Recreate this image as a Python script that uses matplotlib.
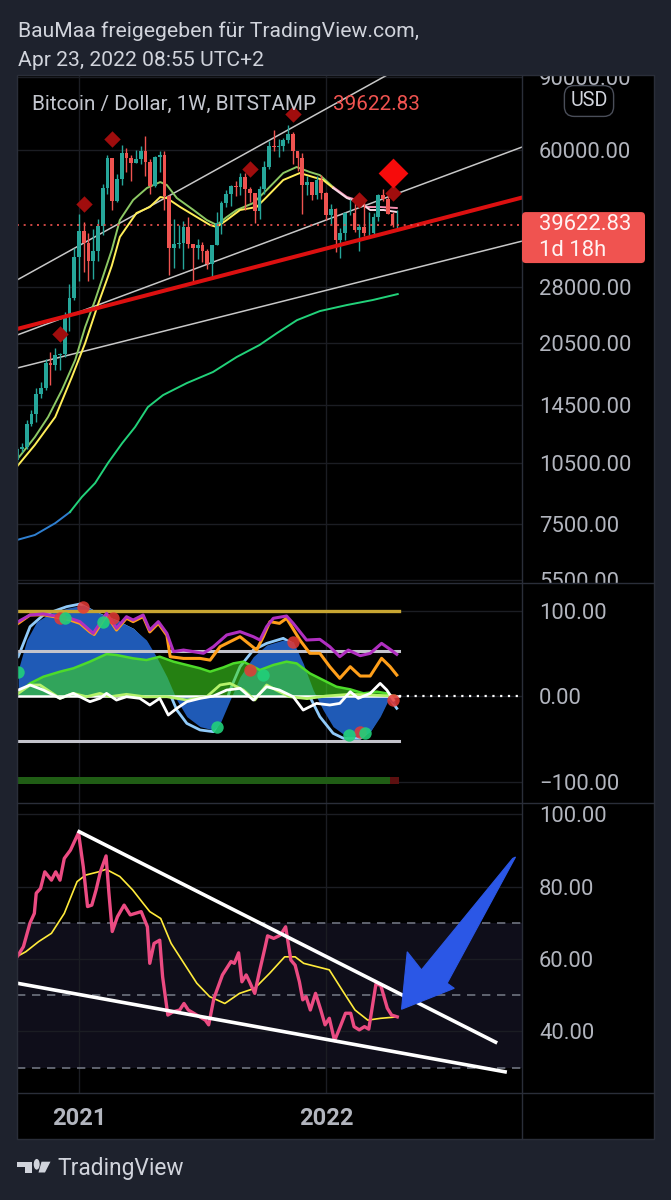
import numpy as np
import matplotlib
matplotlib.use("Agg")
import matplotlib.pyplot as plt
from matplotlib.patches import Rectangle, FancyBboxPatch, Polygon, Circle
from matplotlib.lines import Line2D
from matplotlib.ticker import NullLocator, NullFormatter
from matplotlib.transforms import IdentityTransform

plt.rcParams['font.family'] = ['Roboto', 'DejaVu Sans']

W, H = 671, 1200

# ---- weekly candles BTC/USD (Bitstamp), week 0 = 5 Oct 2020 ----
close = [11380, 11500, 13100, 13800, 15480, 15960, 18400, 18180, 19150, 19270,
         23850, 26270, 33000, 38150, 35800, 32270, 34300, 39300, 48600, 57400,
         45200, 51000, 59000, 57400, 55800, 57000, 59800, 56200, 49000, 57800,
         58200, 46400, 34800, 35600, 35800, 39000, 35500, 34700, 35300, 34250,
         31800, 35400, 39900, 44600, 47000, 49000, 48800, 51700, 48300, 47300,
         42800, 48200, 54700, 61500, 60900, 61300, 63300, 65500, 59700, 57300,
         49400, 50100, 46700, 50800, 47300, 41800, 43100, 36300, 37900, 42200,
         42200, 38400, 39100, 37800, 37800, 41300, 46800, 45800, 42100, 39500,
         39622.83]
high = [11500, 11730, 13350, 14100, 15970, 16480, 18800, 19480, 19900, 19400,
        24300, 28400, 34800, 41950, 40100, 37800, 38600, 40900, 49700, 58300,
        57500, 52600, 61700, 60600, 58400, 60100, 61200, 64900, 57000, 58000,
        59500, 59600, 46600, 40800, 39500, 40400, 41300, 35500, 36600, 35900,
        34600, 35400, 42400, 45300, 48100, 49300, 50500, 52900, 52900, 48800,
        47300, 49200, 56500, 62900, 67000, 63700, 64300, 69000, 66300, 59400,
        59100, 51900, 50100, 51800, 52100, 47500, 44400, 43500, 38900, 42600,
        45800, 44700, 39800, 45400, 42600, 42300, 47000, 48200, 47500, 42400,
        42900]
low = [10550, 11200, 11400, 12950, 13250, 15100, 15800, 16200, 17600, 17600,
       19000, 21900, 26000, 29000, 30400, 28900, 29200, 32300, 37400, 47000,
       43000, 45000, 49300, 53200, 50400, 55800, 55500, 52000, 47000, 48800,
       53000, 42900, 30000, 31200, 34800, 31000, 34800, 28800, 32700, 32100,
       31000, 29300, 35300, 37500, 43700, 43900, 46400, 46600, 43000, 44800,
       40000, 40800, 46900, 53900, 59500, 57800, 59500, 62300, 55600, 53500,
       42000, 46700, 45500, 45600, 45700, 40600, 39700, 34000, 32900, 36300,
       41700, 38000, 34300, 37200, 37200, 37600, 40500, 45200, 42000, 39200,
       38500]
first_open = 10670
year_weeks = [13, 65]
year_labels = ['2021', '2022']

# moving averages (week, price)
fast_x = [-0.1, 3.7, 6.5, 9.4, 12.2, 14.3, 16.4, 18.5, 19.9, 21.6, 24.4, 27.3, 30.1, 31.5, 33.6, 37.1,
          39.9, 42.0, 44.1, 46.2, 49.7, 52.5, 56.0, 58.8, 61.6, 63.7, 66.5, 69.4, 71.5, 73.6, 76.4, 79.9]
fast_p = [10700, 12150, 13590, 15790, 18660, 22410, 26040, 30770, 34400, 40640, 45420, 48560, 50200,
          49370, 45920, 42970, 40640, 39530, 41320, 42970, 44670, 48020, 52780, 54570, 53070, 52180,
          48830, 46180, 45420, 43690, 43690, 43450]
slow_x = [-0.1, 3.7, 8.0, 11.5, 14.3, 17.1, 18.8, 19.9, 21.6, 25.1, 27.9, 30.1, 31.5, 34.3, 37.8, 40.6,
          42.0, 44.1, 46.9, 50.4, 52.5, 56.0, 59.5, 62.3, 64.4, 66.5, 69.4, 72.2, 74.3, 77.1, 79.9]
slow_p = [10300, 11630, 13590, 16970, 20500, 25610, 29000, 31500, 36980, 42250, 43690, 46180, 45920,
          43690, 41320, 39530, 39090, 40640, 42970, 43690, 46180, 50770, 52780, 51620, 50770, 48560,
          45920, 44670, 42970, 42970, 42490]
ma_turn = 66.5
long_x = [-0.1, 3.7, 8.0, 11.1, 13.6, 16.4, 19.1, 22.1, 24.8, 27.5, 30.7, 35.7, 41.2, 46.2, 51.0,
          54.7, 58.9, 63.7, 69.4, 74.8, 80.1]
long_p = [6855, 7050, 7530, 8010, 8710, 9410, 10520, 11750, 12850, 14360, 15350, 16410, 17450,
          18970, 20280, 21680, 23290, 24490, 25330, 26040, 26920]
long_turn = 11.1

# drawn trend lines (week, price)
chan_upper_x, chan_upper_p = [-0.05, 106.3], [29110, 138000]
chan_mid_x, chan_mid_p = [-0.05, 106.3], [21430, 61000]
chan_low_x, chan_low_p = [-0.05, 106.3], [17840, 36150]
support_x, support_p = [-0.05, 106.3], [22170, 46060]

# signal diamonds
sig_x = [9, 14, 20, 49, 58, 72, 79]
sig_p = [21600, 44400, 63800, 54000, 73300, 45400, 47200]
big_sig_x, big_sig_p = [79], [52700]

price_ticks = [5500, 7500, 10500, 14500, 20500, 28000, 60000, 90000]

# ---- oscillator pane ----
purple_x = [0.2, 2.7, 5.5, 7.6, 11.1, 13.2, 16.0, 18.8, 20.9, 23.0, 24.4, 26.5, 27.9, 29.7, 31.5, 32.9,
            35.0, 37.1, 39.2, 41.3, 44.1, 46.9, 49.7, 51.1, 52.5, 53.9, 56.7, 58.1, 60.9, 63.7, 65.8,
            67.9, 69.7, 72.2, 74.3, 76.7, 78.5, 79.9]
purple_v = [87, 94.8, 96, 94, 90.9, 87, 73.3, 96.7, 79.2, 92.8, 88.9, 94.8, 77.2, 87, 73.3, 51.9,
            53.8, 51.9, 50, 57.7, 71.4, 75.3, 69.4, 65.5, 81.1, 90.9, 93.6, 85, 65.5, 66.3, 57.7,
            46, 53.8, 47.2, 49.9, 61.6, 54.6, 48.8]
orange_x = [0.2, 2.7, 5.5, 7.6, 11.1, 13.2, 15.3, 16.2, 18.8, 20.9, 23.0, 24.4, 26.5, 27.9, 29.7, 31.5,
            32.2, 35.0, 38.5, 40.6, 42.7, 46.9, 50.4, 51.8, 53.2, 55.2, 56.7, 59.5, 61.6, 63.7, 65.8,
            67.9, 70.1, 72.2, 74.3, 76.7, 78.5, 79.9]
orange_v = [85, 94.8, 95, 93, 89, 85, 75, 72, 94.8, 77.2, 91, 87, 93, 75, 85, 71,
            46, 44, 44, 42, 57.7, 69.4, 53.8, 69.4, 87, 85, 90.9, 65.5, 50, 50, 34.3,
            20.7, 34.3, 23.4, 23.4, 44.1, 34.3, 24.6]
wave_x = [0.2, 2.0, 4.1, 6.9, 10.4, 13.9, 17.4, 20.9, 24.4, 27.2, 29.3, 31.5, 33.6, 35.7, 38.5, 41.3,
          42.7, 44.8, 46.9, 49.7, 52.5, 56.0, 58.1, 60.2, 62.3, 64.4, 66.5, 69.4, 72.2, 74.3, 76.4,
          78.1, 79.5]
wave_v = [30.4, 65.5, 87, 96.7, 102.6, 106.5, 96.7, 88.9, 79.2, 65.5, 46, 22.6, -4.7, -24.1, -35.8,
          -39.7, -32, -4.7, 22.6, 46, 59.7, 65.5, 63.6, 38.2, 7, -16.4, -35.8, -47.5, -47.5, -41.7,
          -24.1, -4.7, -10.5]
fastwave_x = [0.2, 2.7, 5.5, 10.4, 13.2, 16.7, 20.9, 24.4, 27.2, 29.3, 31.5, 33.6, 35.7, 38.5, 41.3,
              42.7, 44.8, 46.9, 49.7, 52.5, 56.0, 57.8, 59.5, 61.6, 63.7, 66.5, 68.7, 72.2, 74.3,
              76.4, 78.1, 79.9]
fastwave_v = [46, 81.1, 94.8, 104.5, 107.6, 96.7, 87, 77.2, 61.6, 38.2, 10.9, -16.4, -32, -39.7,
              -41.7, -28, 7, 34.3, 53.8, 61.6, 67.5, 61.6, 34.3, -0.8, -24.1, -43.6, -49.5, -49.5,
              -39.7, -20.3, -0.8, -14.4]
mf_x = [0.2, 2.7, 5.5, 9.0, 11.8, 15.3, 18.8, 20.9, 24.4, 27.2, 30.0, 32.9, 35.7, 38.5, 40.6, 43.4,
        45.5, 47.6, 49.0, 51.1, 53.9, 56.7, 58.8, 61.6, 64.4, 67.2, 70.1, 72.9, 75.7, 77.8, 79.2]
mf_v = [3.1, 14.8, 22.6, 28.5, 32.4, 40.2, 49.1, 48, 44.1, 42.1, 46, 40.2, 36.3, 32.4, 28.5, 33.5,
        38.2, 40.2, 36.3, 30.4, 36.3, 40.2, 38.2, 26.5, 18.7, 10.9, 7.8, 3.1, 5.1, 3.1, -0.8]
lime_x = [0.2, 2.7, 4.8, 9.0, 11.8, 14.6, 17.4, 19.5, 23.0, 27.0, 31.5, 35.7, 39.9, 42.7, 44.8, 47.6,
          50.0, 52.5, 54.5, 57.4, 61.0, 65.0, 70.0, 75.0, 79.5]
lime_v = [3.1, 12.9, 12.9, -2.7, 3.1, -0.8, 3.1, -0.8, 2, -1, -0.8, -4.7, -0.8, 12.9, 14.8, 7,
          -4.7, 12.9, 7, -0.8, -3, 0, 2, 1, 0]
white_x = [0.2, 2.7, 5.5, 9.0, 11.8, 15.3, 17.4, 18.8, 20.9, 23.0, 25.8, 27.9, 30.0, 31.8, 33.6, 35.7,
           38.5, 41.3, 44.1, 46.9, 49.7, 52.5, 55.2, 58.1, 60.2, 63.0, 65.8, 67.9, 70.1, 71.8, 74.3,
           76.4, 77.8, 79.2]
white_v = [7, 12.9, 7, -2.7, 3.1, -6.6, -2.7, 3.1, -4.7, -0.8, -2.7, -10.5, -2.7, -22.2, -14.4, -6.6,
           -2.7, 0, 7, 9, -4.7, 10.9, 7, -0.8, -16.4, -8.6, -10.5, -8.6, 5.1, -2.7, 3.1,
           14.8, 7, -4.7]
red_dot_x = [9.0, 13.9, 20.2, 49.0, 58.1, 72.2, 79.2]
red_dot_v = [90.9, 104.5, 90.9, 30.4, 63.6, -41.7, -4.7]
green_dot_x = [0.2, 10.0, 18.1, 42.0, 51.8, 69.9, 73.2]
green_dot_v = [28.5, 90.9, 87, -36.6, 24.6, -45.6, -42.9]
osc_top, osc_ob, osc_os = 100, 53, -53
osc_bar_green = (-0.5, 79.0)
osc_bar_red = (78.5, 1.9)
osc_bar_v = (-103.3, 9.0)
osc_ticks = [100, 0, -100]

# ---- RSI pane ----
rsi_x = [-0.03, 1.3, 2.7, 3.6, 4.0, 4.9, 5.8, 7.2, 8.1, 9.0, 9.9, 11.2, 12.9, 13.9, 14.8, 15.7,
         16.6, 17.5, 18.7, 19.3, 20.0, 21.1, 22.5, 23.8, 26.1, 27.4, 27.9, 28.8, 30.0, 30.6, 31.7,
         32.8, 34.2, 35.1, 36.0, 37.8, 39.6, 40.3, 41.4, 43.2, 45.0, 45.7, 46.6, 47.3, 48.2, 48.9,
         50.0, 50.9, 52.2, 52.7, 54.0, 55.4, 56.5, 57.6, 58.5, 59.4, 60.1, 60.8, 61.7, 62.8, 63.9,
         64.8, 65.7, 66.8, 68.0, 69.1, 70.2, 70.9, 72.0, 73.1, 74.0, 75.5, 76.5, 77.9, 78.8, 80.0]
rsi_v = [60.6, 63.4, 70.0, 72.6, 78.2, 79.5, 84.1, 81.8, 84.1, 81.8, 87.8, 90.1, 94.9, 85.5, 74.5,
         74.9, 79.1, 84.1, 88.5, 78.2, 67.6, 71.7, 74.9, 72.2, 73.1, 68.9, 58.8, 64.3, 65.2, 55.1,
         44.5, 45.4, 45.9, 47.7, 45.9, 44.5, 43.1, 41.8, 49.1, 55.6, 59.3, 58.8, 61.7, 53.7, 55.6,
         53.7, 50.5, 56.0, 63.4, 66.4, 65.7, 66.6, 68.9, 59.7, 58.3, 53.7, 48.7, 49.6, 45.9, 50.5,
         45.9, 41.8, 43.6, 37.4, 41.3, 45.0, 45.0, 41.3, 40.4, 41.3, 40.6, 53.0, 52.8, 46.4, 44.5,
         44.0]
rsi_ma_x = [-0.03, 1.8, 4.5, 7.2, 9.9, 12.6, 14.4, 17.1, 18.7, 21.6, 24.3, 26.5, 27.9, 30.2, 32.4,
            35.1, 37.8, 40.5, 43.7, 46.8, 50.0, 53.1, 56.3, 58.5, 60.3, 63.0, 65.7, 68.4, 71.1, 73.8,
            76.5, 80.0]
rsi_ma_v = [60.7, 62.0, 64.8, 67.1, 72.6, 81.4, 83.2, 84.1, 84.8, 82.8, 79.1, 75.4, 73.1, 71.2, 64.3,
            58.8, 53.3, 49.6, 47.7, 50.5, 51.9, 56.0, 60.6, 60.6, 58.8, 57.9, 57.0, 51.4, 45.9, 43.1,
            43.6, 44.0]
wedge_top_x, wedge_top_v = [13.04, 100.7], [95.2, 37.0]
wedge_bot_x, wedge_bot_v = [-0.03, 102.7], [53.3, 28.8]
arrow_x = [104.9, 90.5, 92.0, 80.9, 82.1, 85.1, 104.3]
arrow_v = [88.2, 53.3, 51.9, 46.1, 62.0, 57.0, 87.8]
rsi_levels = [70, 50, 30]
rsi_ticks = [100, 80, 60, 40]

XLIM = (-0.05, 106.26)
AX_TXT = '#b2b5be'
GRID = '#1b1d23'
SEP = '#2a2e39'
TICK_FS = 15.8


def frame(x0, y0, x1, y1):
    return [x0 / W, 1 - y1 / H, (x1 - x0) / W, (y1 - y0) / H]


def clip_right(ax, y0, y1):
    r = Rectangle((522 / W, 1 - y1 / H), 132 / W, (y1 - y0) / H, transform=fig.transFigure)
    for lbl in ax.get_yticklabels():
        lbl.set_clip_path(r)


def style_pane(ax):
    ax.set_facecolor('black')
    for s in ax.spines.values():
        s.set_visible(False)
    ax.set_xlim(*XLIM)
    ax.set_xticks(year_weeks)
    ax.tick_params(axis='x', length=0, labelbottom=False)
    ax.tick_params(axis='y', left=False, labelleft=False, right=True, labelright=True,
                   length=0, pad=12.2, labelsize=TICK_FS, labelcolor=AX_TXT)
    ax.grid(True, color=GRID, lw=1)


def two_color(ax, xs, ys, turn, c1, c2, lw):
    xs, ys = np.array(xs), np.array(ys)
    ax.plot(xs[xs <= turn], ys[xs <= turn], color=c1, lw=lw, solid_joinstyle='round')
    ax.plot(xs[xs >= turn], ys[xs >= turn], color=c2, lw=lw, solid_joinstyle='round')


fig = plt.figure(figsize=(W / 100, H / 100), dpi=100, facecolor='#1e222d')
fig.add_artist(Rectangle((17 / W, 1 - 1139 / H), 637 / W, 1064 / H, transform=fig.transFigure,
                         fc='black', ec='none', zorder=-1))

# ---------------- price pane ----------------
ax_p = fig.add_axes(frame(17, 75, 522, 583))
style_pane(ax_p)
ax_p.set_yscale('log')
ax_p.set_ylim(5398, 91040)
ax_p.yaxis.set_minor_locator(NullLocator())
ax_p.yaxis.set_minor_formatter(NullFormatter())
ax_p.set_yticks(price_ticks)
ax_p.set_yticklabels([f'{t:.2f}' for t in price_ticks])
clip_right(ax_p, 75, 583)

weeks = np.arange(len(close))
c = np.array(close, dtype=float)
o = np.array([first_open] + close[:-1], dtype=float)
col = np.where(c >= o, '#26a69a', '#ef5350')

ax_p.plot(chan_upper_x, chan_upper_p, color='#c8c8c8', lw=1.1, zorder=2)
ax_p.plot(chan_mid_x, chan_mid_p, color='#c8c8c8', lw=1.1, zorder=2)
ax_p.plot(chan_low_x, chan_low_p, color='#c8c8c8', lw=1.1, zorder=2)
two_color(ax_p, long_x, long_p, long_turn, '#2f7fd0', '#22d27a', 1.4)

ax_p.vlines(weeks, low, high, colors=col, lw=1.0, zorder=3)
ax_p.bar(weeks, c - o, bottom=o, width=0.75, color=col, linewidth=0, zorder=3)

two_color(ax_p, fast_x, fast_p, ma_turn, '#8cc864', '#f48fb1', 1.4)
two_color(ax_p, slow_x, slow_p, ma_turn, '#ffee58', '#f8d8e4', 1.4)
ax_p.plot(support_x, support_p, color='#dc1010', lw=2.9, zorder=4)
ax_p.axhline(close[-1], color='#f05350', lw=1.2, ls=(0, (1.2, 2.8)), zorder=4)
ax_p.scatter(sig_x, sig_p, marker='D', s=70, color='#a00d0d', lw=0, zorder=5)
ax_p.scatter(big_sig_x, big_sig_p, marker='D', s=230, color='#f70b0b', lw=0, zorder=5)

# ---------------- oscillator pane ----------------
ax_i = fig.add_axes(frame(17, 583, 522, 803))
style_pane(ax_i)
ax_i.set_ylim(-125.1, 132.2)
ax_i.set_yticks(osc_ticks)
ax_i.set_yticklabels(['100.00', '0.00', '\u2212100.00'])
clip_right(ax_i, 583, 803)

ax_i.plot(fastwave_x, fastwave_v, color='#90caf9', lw=2.0, zorder=2)
ax_i.fill_between(wave_x, wave_v, 0, color='#1f5ab6', lw=0, zorder=2.2)
ax_i.fill_between(mf_x, mf_v, 0, color='#3ed71f', alpha=0.6, lw=0, zorder=2.4)
ax_i.plot(mf_x, mf_v, color='#4ddb2a', lw=1.8, zorder=2.5)
ax_i.plot([-0.5, 80.4], [osc_top, osc_top], color='#c8a632', lw=2.4, zorder=2.6)
ax_i.plot([-0.5, 80.4], [osc_ob, osc_ob], color='#c4c4cc', lw=2.2, zorder=2.6)
ax_i.plot([-0.5, 80.4], [osc_os, osc_os], color='#c4c4cc', lw=2.2, zorder=2.6)
ax_i.plot([-0.5, 80.4], [0, 0], color='white', lw=1.8, zorder=2.6)
ax_i.plot([80.4, XLIM[1]], [0, 0], color='white', lw=1.6, ls=(0, (1, 2.5)), zorder=2.6)
ax_i.plot(lime_x, lime_v, color='#b5f26b', lw=2.0, zorder=2.7)
ax_i.plot(orange_x, orange_v, color='#ff9f1a', lw=2.2, zorder=2.8)
ax_i.plot(purple_x, purple_v, color='#b02fc0', lw=2.2, zorder=2.9)
ax_i.plot(white_x, white_v, color='white', lw=2.0, zorder=3)
ax_i.broken_barh([osc_bar_green], osc_bar_v, facecolors='#205d15', zorder=3)
ax_i.broken_barh([osc_bar_red], osc_bar_v, facecolors='#5c1010', zorder=3)
ax_i.scatter(red_dot_x, red_dot_v, s=80, color='#e53935', alpha=0.85, lw=0, zorder=4)
ax_i.scatter(green_dot_x, green_dot_v, s=80, color='#21d07a', alpha=0.9, lw=0, zorder=4)

# ---------------- RSI pane ----------------
ax_r = fig.add_axes(frame(17, 803, 522, 1093))
style_pane(ax_r)
ax_r.set_ylim(22.95, 103.13)
ax_r.set_yticks(rsi_ticks)
ax_r.set_yticklabels([f'{t:.2f}' for t in rsi_ticks])
clip_right(ax_r, 803, 1093)
ax_r.axhspan(rsi_levels[-1], rsi_levels[0], color='#0f0e1a', lw=0, zorder=0.5)
for lv in rsi_levels:
    ax_r.axhline(lv, color='#6f7380', lw=1.2, ls=(0, (5, 4)), zorder=1.6)
ax_r.plot(rsi_ma_x, rsi_ma_v, color='#ffeb3b', lw=1.2, zorder=3)
ax_r.plot(rsi_x, rsi_v, color='#eb4b82', lw=2.4, zorder=3.1, solid_joinstyle='round')
ax_r.plot(wedge_top_x, wedge_top_v, color='white', lw=2.6, zorder=3.2)
ax_r.plot(wedge_bot_x, wedge_bot_v, color='white', lw=2.6, zorder=3.2)
ax_r.add_patch(Polygon(np.column_stack([arrow_x, arrow_v]), closed=True, fc='#2b57e6',
                       ec='#2b57e6', lw=0.8, zorder=4, clip_on=False))

# ---------------- time axis ----------------
ax_t = fig.add_axes(frame(17, 1093, 522, 1139))
ax_t.set_facecolor('black')
for s in ax_t.spines.values():
    s.set_visible(False)
ax_t.set_xlim(*XLIM)
ax_t.set_yticks([])
ax_t.set_xticks(year_weeks)
ax_t.set_xticklabels(year_labels, fontweight='bold')
ax_t.tick_params(axis='x', length=0, pad=-15.1, labelsize=17, labelcolor=AX_TXT)
for lbl in ax_t.get_xticklabels():
    lbl.set_va('center')

# separators
for yy in [583, 803, 1093]:
    fig.add_artist(Line2D([17 / W, 654 / W], [1 - yy / H] * 2, color=SEP, lw=1, zorder=5))
fig.add_artist(Line2D([522 / W] * 2, [1 - 75 / H, 1 - 1139 / H], color=SEP, lw=1, zorder=5))
fig.add_artist(Rectangle((17 / W, 1 - 1139 / H), 637 / W, 1064 / H, transform=fig.transFigure,
                         fc='none', ec=SEP, lw=1, zorder=5))

# last price box
yp = ax_p.transData.transform((0, close[-1]))[1]
fig.add_artist(FancyBboxPatch((522, yp - 38.5), 123, 51, boxstyle='round,pad=0,rounding_size=4',
                              transform=IdentityTransform(), fc='#f05350', ec='none', zorder=6))
fig.text(539 / W, yp / H, f'{close[-1]:.2f}', color='#fff2f2', fontsize=TICK_FS, va='center', zorder=7)
fig.text(539 / W, (yp - 25.5) / H, '1d 18h', color='#fff2f2', fontsize=TICK_FS, va='center', zorder=7)

# header / legend
fig.text(18 / W, 1 - 31 / H, 'BauMaa freigegeben für TradingView.com,', fontsize=15.2,
         color='#d1d4dc', va='center')
fig.text(18 / W, 1 - 60 / H, 'Apr 23, 2022 08:55 UTC+2', fontsize=15.2, color='#d1d4dc', va='center')
fig.text(32 / W, 1 - 104 / H, 'Bitcoin / Dollar, 1W, BITSTAMP', fontsize=14.9, color='#c3c6ce',
         va='center')
fig.text(333 / W, 1 - 104 / H, f'{close[-1]:.2f}', fontsize=14.9, color='#f05350', va='center')
fig.text(589 / W, 1 - 101 / H, 'USD', fontsize=14.2, color='#d1d4dc', ha='center', va='center',
         bbox=dict(boxstyle='round,pad=0.3,rounding_size=0.5', fc='black', ec='#4a4e59', lw=1))

# footer logo
logo = '#d1d4dc'
fig.add_artist(Rectangle((17 / W, 1 - 1166.5 / H), 15 / W, 4.8 / H, transform=fig.transFigure,
                         fc=logo, ec='none'))
fig.add_artist(Rectangle((25 / W, 1 - 1172.5 / H), 7 / W, 11 / H, transform=fig.transFigure,
                         fc=logo, ec='none'))
fig.add_artist(Circle((36.7 / W, 1 - 1164.3 / H), 3.0 / W, transform=fig.transFigure, fc=logo,
                      ec='none'))
fig.add_artist(Polygon([(41.5 / W, 1 - 1161.7 / H), (50.5 / W, 1 - 1161.7 / H),
                        (45 / W, 1 - 1172.5 / H), (38.5 / W, 1 - 1172.5 / H)],
                       closed=True, transform=fig.transFigure, fc=logo, ec='none'))
fig.text(57 / W, 1 - 1169 / H, 'TradingView', fontsize=16.4, color=logo, va='center')

fig.savefig('out.png', dpi=100, facecolor=fig.get_facecolor())
